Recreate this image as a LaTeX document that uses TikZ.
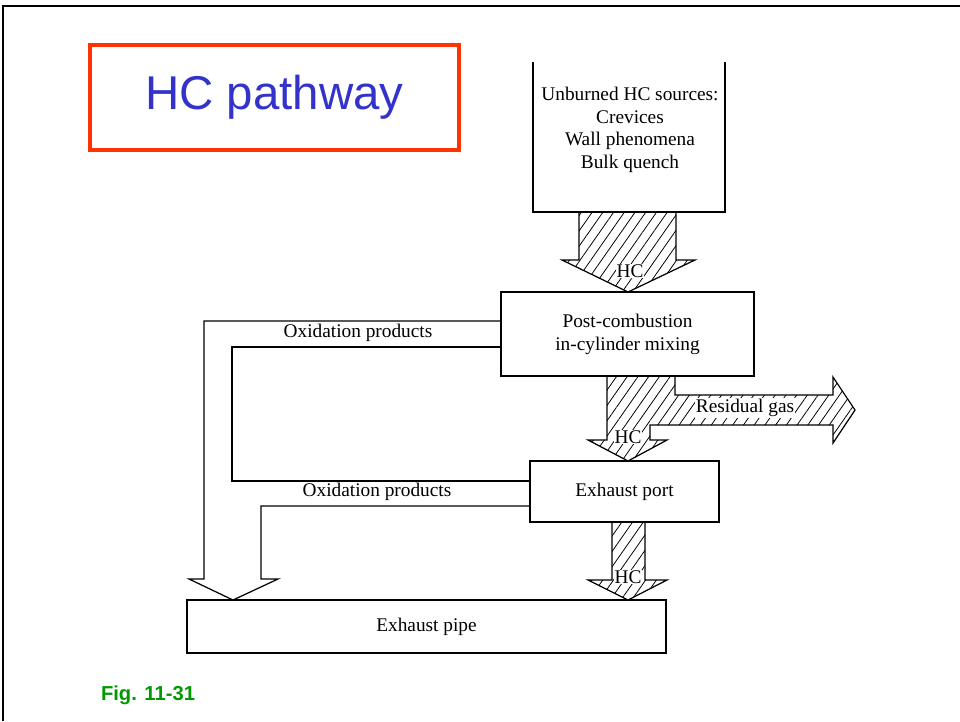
\documentclass[tikz,border=0pt]{standalone}
\usepackage{fontspec}
\setmainfont{Liberation Serif}
\newfontfamily\slidefont{Liberation Sans}
\usetikzlibrary{patterns.meta}
\definecolor{titlered}{RGB}{255,51,0}
\definecolor{titleblue}{RGB}{51,51,204}
\definecolor{figgreen}{RGB}{0,153,0}

\begin{document}
\begin{tikzpicture}[x=0.02cm, y=-0.02cm,
    box/.style={draw, line width=0.7pt, inner sep=0pt, outer sep=0pt, align=center, font=\fontsize{11}{13}\selectfont},
    hatch/.style={draw, line width=0.7pt, pattern={Lines[angle=55,distance=5pt,line width=0.45pt]}},
    flow/.style={draw, line width=0.7pt},
    lbl/.style={inner sep=0.5pt, font=\fontsize{11}{13}\selectfont},
    hclbl/.style={lbl, fill=white}]
    \useasboundingbox (0,0) rectangle (960,721);
    % slide frame and title
    \draw[line width=1.6pt] (3,721) -- (3,6) -- (960,6);
    \node[draw=titlered, line width=2.2pt, minimum width=7.38cm, minimum height=2.1cm,
          text=titleblue, font=\slidefont\fontsize{27}{32}\selectfont] (title) at (274.5,97.5) {HC pathway};
    \node[text=figgreen, font=\slidefont\bfseries\fontsize{11.5}{14}\selectfont] (fig) at (148,695) {Fig. 11-31};

    % boxes
    \draw[flow] (533,62) -- (533,212) -- (725,212) -- (725,62);
    \node[lbl, align=center, font=\fontsize{11}{12.8}\selectfont] (sources) at (630,130)
        {Unburned HC sources:\\Crevices\\Wall phenomena\\Bulk quench};
    \node[box, minimum width=5.06cm, minimum height=1.68cm] (mixing) at (627.5,334) {Post-combustion\\in-cylinder mixing};
    \node[box, minimum width=3.78cm, minimum height=1.22cm] (port) at (624.5,491.5) {Exhaust port};
    \node[box, minimum width=9.58cm, minimum height=1.06cm] (pipe) at (426.5,626.5) {Exhaust pipe};

    % hatched HC arrows
    \draw[hatch] (579,212) -- (579,260) -- (562,260) -- (628,292) -- (695,260) -- (676,260) -- (676,212) -- cycle;
    \draw[hatch] (607,376) -- (607,440) -- (588,440) -- (628,461) -- (667,440) -- (650,440) -- (650,425)
        -- (833,425) -- (833,443) -- (855,410) -- (833,377) -- (833,395) -- (675,395) -- (675,376) -- cycle;
    \draw[hatch] (612,522) -- (612,580) -- (588,580) -- (628,600) -- (667,580) -- (645,580) -- (645,522) -- cycle;
    \node[hclbl] (hc1) at (630,271) {HC};
    \node[hclbl] (hc2) at (628,437) {HC};
    \node[hclbl] (hc3) at (628,577) {HC};
    \node[hclbl] (residual) at (745,408) {Residual gas};

    % oxidation products
    \draw[flow] (501,321) -- (204,321) -- (204,579) -- (189,579) -- (233,600) -- (278,579) -- (261,579) -- (261,506) -- (530,506);
    \draw[flow] (501,347) -- (232,347) -- (232,481) -- (530,481);
    \node[lbl] (oxid1) at (358,333) {Oxidation products};
    \node[lbl] (oxid2) at (377,492) {Oxidation products};
\end{tikzpicture}
\end{document}
